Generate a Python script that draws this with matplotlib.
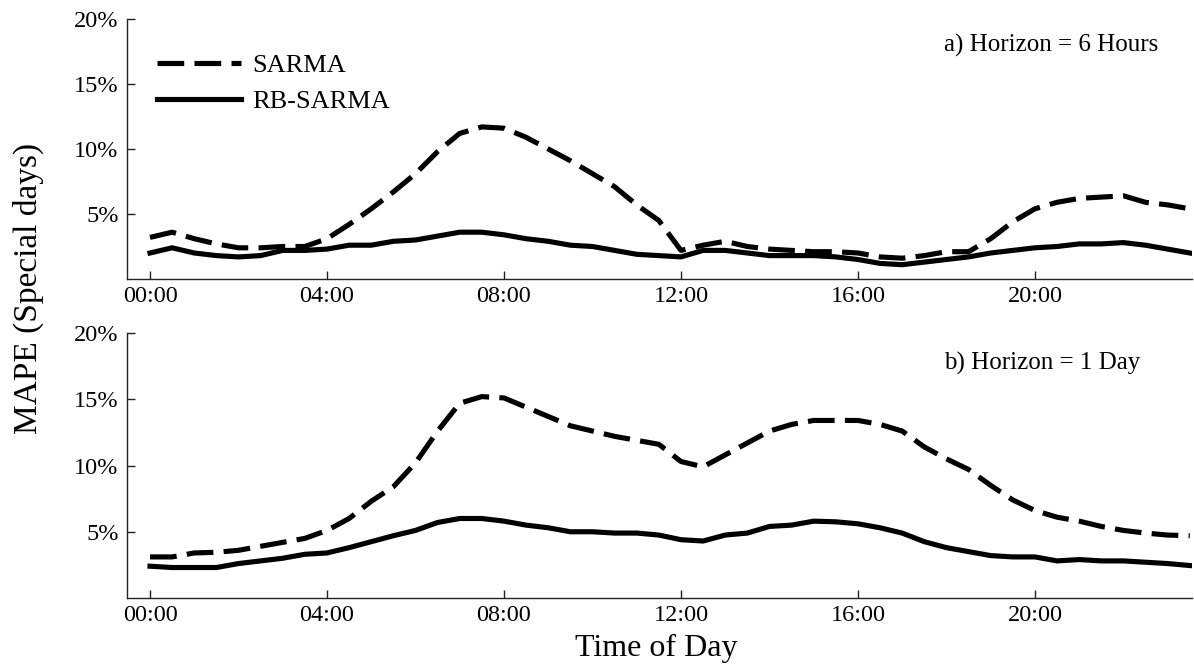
import matplotlib
matplotlib.use("Agg")
import matplotlib.pyplot as plt
import numpy as np

hours = np.arange(0, 24, 0.5)
tick_hours = [0, 4, 8, 12, 16, 20]
tick_labels = ["00:00", "04:00", "08:00", "12:00", "16:00", "20:00"]
y_ticks = [5, 10, 15, 20]

sarma_6h = [3.2, 3.6, 3.1, 2.7, 2.4, 2.4, 2.5, 2.5, 3.1, 4.2, 5.4, 6.7, 8.1, 9.8, 11.2, 11.7,
            11.6, 10.9, 10.0, 9.1, 8.1, 7.1, 5.7, 4.5, 2.2, 2.6, 2.9, 2.5, 2.3, 2.2, 2.1, 2.1,
            2.0, 1.7, 1.6, 1.8, 2.1, 2.1, 3.1, 4.4, 5.4, 5.9, 6.2, 6.3, 6.4, 5.9, 5.7, 5.4]
rbsarma_6h = [2.0, 2.4, 2.0, 1.8, 1.7, 1.8, 2.2, 2.2, 2.3, 2.6, 2.6, 2.9, 3.0, 3.3, 3.6, 3.6,
              3.4, 3.1, 2.9, 2.6, 2.5, 2.2, 1.9, 1.8, 1.7, 2.2, 2.2, 2.0, 1.8, 1.8, 1.8, 1.7,
              1.5, 1.2, 1.1, 1.3, 1.5, 1.7, 2.0, 2.2, 2.4, 2.5, 2.7, 2.7, 2.8, 2.6, 2.3, 2.0]
sarma_1d = [3.1, 3.1, 3.4, 3.45, 3.6, 3.9, 4.2, 4.5, 5.1, 6.0, 7.3, 8.4, 10.2, 12.6, 14.7, 15.2,
            15.1, 14.4, 13.7, 13.0, 12.6, 12.2, 11.9, 11.6, 10.3, 9.9, 10.8, 11.7, 12.6, 13.1, 13.4, 13.4,
            13.4, 13.1, 12.6, 11.4, 10.5, 9.7, 8.5, 7.4, 6.6, 6.1, 5.8, 5.4, 5.1, 4.9, 4.75, 4.7]
rbsarma_1d = [2.4, 2.3, 2.3, 2.3, 2.6, 2.8, 3.0, 3.3, 3.4, 3.8, 4.25, 4.7, 5.1, 5.7, 6.0, 6.0,
              5.8, 5.5, 5.3, 5.0, 5.0, 4.9, 4.9, 4.75, 4.4, 4.3, 4.75, 4.9, 5.4, 5.5, 5.8, 5.75,
              5.6, 5.3, 4.9, 4.25, 3.8, 3.5, 3.2, 3.1, 3.1, 2.8, 2.9, 2.8, 2.8, 2.7, 2.6, 2.45]

series_names = ["SARMA", "RB-SARMA"]
panel_titles = ["a) Horizon = 6 Hours", "b) Horizon = 1 Day"]

plt.rcParams['font.family'] = ['Liberation Serif', 'DejaVu Serif']

W, H = 1194, 665
fig = plt.figure(figsize=(W / 100, H / 100), dpi=100)

def px_axes(left, top, right, bottom):
    return fig.add_axes([left / W, 1 - bottom / H, (right - left) / W, (bottom - top) / H])

ax1 = px_axes(127, 19, 1192, 279)
ax2 = px_axes(127, 333, 1192, 598)

lw = 3.7
dash = (0, (5.2, 2.0))
for ax, s, r, title, ty in [(ax1, sarma_6h, rbsarma_6h, panel_titles[0], 0.898),
                            (ax2, sarma_1d, rbsarma_1d, panel_titles[1], 0.885)]:
    ax.plot(hours, s, color='black', lw=lw, linestyle=dash, label=series_names[0])
    ax.plot(hours, r, color='black', lw=lw, linestyle='-', label=series_names[1])
    ax.set_xlim(-0.52, 23.55)
    ax.set_ylim(0, 20)
    ax.set_yticks(y_ticks)
    ax.set_yticklabels([f"{v}%" for v in y_ticks])
    ax.set_xticks(tick_hours)
    ax.set_xticklabels(tick_labels)
    for sp in ['top', 'right']:
        ax.spines[sp].set_visible(False)
    for sp in ['left', 'bottom']:
        ax.spines[sp].set_linewidth(1.0)
        ax.spines[sp].set_color('#222222')
    ax.tick_params(direction='in', length=6, width=1.0, color='#222222', labelsize=17.5, pad=5)
    ax.tick_params(axis='y', pad=6)
    ax.text(0.767, ty, title, transform=ax.transAxes, fontsize=18, ha='left', va='center')

ax1.legend(loc='upper left', bbox_to_anchor=(30 / 1065, 1 - 35 / 260), frameon=False,
           fontsize=19, handlelength=3.2, handletextpad=0.4, labelspacing=0.45,
           borderpad=0, borderaxespad=0)

fig.text(28 / W, 1 - 288 / H, "MAPE (Special days)", rotation=90, fontsize=24,
         ha='center', va='center')
fig.text(656 / W, 1 - 648 / H, "Time of Day", fontsize=23, ha='center', va='center')

fig.savefig("out.png", dpi=100)
